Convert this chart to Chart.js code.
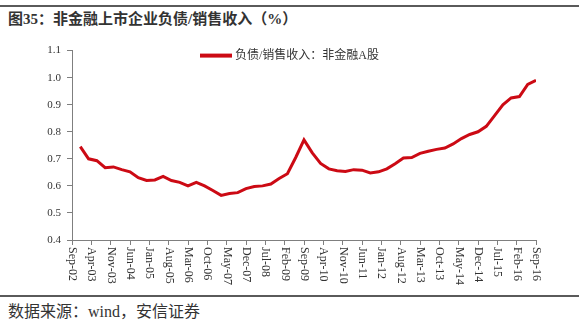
<!DOCTYPE html>
<html>
<head>
<meta charset="utf-8">
<script src="https://cdn.jsdelivr.net/npm/chart.js@4.4.0/dist/chart.umd.min.js"></script>
<style>
    body { margin: 0; width: 579px; height: 321px; background: #fff; position: relative; overflow: hidden; }
    .rule { position: absolute; left: 0; width: 579px; height: 2px; background: #5a5a5a; }
    .caption { position: absolute; left: 8px; color: #333; font-family: "Liberation Serif", "Noto Sans CJK SC", serif; white-space: nowrap; }
    #title { top: 7px; font-size: 15px; font-weight: bold; }
    #source { top: 298px; font-size: 16px; }
    #wrap { position: absolute; left: 0; top: 38px; width: 579px; height: 252px; }
</style>
</head>
<body>
<div class="rule" style="top:5px"></div>
<div class="caption" id="title">图35：非金融上市企业负债/销售收入（%）</div>
<div id="wrap"><canvas id="debtChart"></canvas></div>
<div class="rule" style="top:295px"></div>
<div class="caption" id="source">数据来源：wind，安信证券</div>

<script>
// x axis tick labels, one every 7 months starting Sep-02
const tickLabels = ['Sep-02', 'Apr-03', 'Nov-03', 'Jun-04', 'Jan-05', 'Aug-05', 'Mar-06', 'Oct-06',
    'May-07', 'Dec-07', 'Jul-08', 'Feb-09', 'Sep-09', 'Apr-10', 'Nov-10', 'Jun-11', 'Jan-12',
    'Aug-12', 'Mar-13', 'Oct-13', 'May-14', 'Dec-14', 'Jul-15', 'Feb-16', 'Sep-16'];
const tickStep = 7;

// quarterly ratio, Dec-02 .. Sep-16
const seriesName = '负债/销售收入：非金融A股';
const firstQuarterOffset = 3; // Dec-02 is 3 months after Sep-02
const ratio = [
    0.745, 0.700, 0.693, 0.667, 0.670, 0.660, 0.652, 0.630,   // Dec-02 .. Sep-04
    0.620, 0.622, 0.635, 0.620, 0.613, 0.600, 0.613, 0.600,   // Dec-04 .. Sep-06
    0.583, 0.565, 0.572, 0.575, 0.590, 0.598, 0.600, 0.607,   // Dec-06 .. Sep-08
    0.627, 0.645, 0.705, 0.770, 0.722, 0.683, 0.663, 0.656,   // Dec-08 .. Sep-10
    0.653, 0.660, 0.658, 0.648, 0.652, 0.663, 0.682, 0.703,   // Dec-10 .. Sep-12
    0.705, 0.720, 0.728, 0.735, 0.740, 0.755, 0.775, 0.790,   // Dec-12 .. Sep-14
    0.800, 0.820, 0.860, 0.900, 0.925, 0.930, 0.975, 0.990    // Dec-14 .. Sep-16
];

const points = ratio.map((v, i) => ({ x: firstQuarterOffset + 3 * i, y: v }));

const labelFont = '12px "Liberation Serif", serif';
const legendFont = '12px "Liberation Serif", "Noto Sans CJK SC", serif';
const textColor = '#333';
const axisColor = '#7f7f7f';
const lineColor = '#cc0a14';

// draw x labels rotated clockwise (top-to-bottom), as in the source
const verticalLabels = {
    id: 'verticalLabels',
    afterDraw(chart) {
        const x = chart.scales.x;
        const ctx = chart.ctx;
        ctx.save();
        ctx.font = labelFont;
        ctx.fillStyle = textColor;
        ctx.textAlign = 'left';
        ctx.textBaseline = 'middle';
        tickLabels.forEach((lab, i) => {
            const px = x.getPixelForValue(i * tickStep);
            ctx.save();
            ctx.translate(px, chart.chartArea.bottom + 7);
            ctx.rotate(Math.PI / 2);
            ctx.fillText(lab, 0, 0);
            ctx.restore();
        });
        ctx.restore();
    }
};

// legend sits inside the plot, near the top
const topLegend = {
    id: 'topLegend',
    afterDraw(chart) {
        const ctx = chart.ctx;
        const area = chart.chartArea;
        const ds = chart.data.datasets[0];
        const left = area.left + 128;
        const y = area.top + 5;
        ctx.save();
        ctx.strokeStyle = ds.borderColor;
        ctx.lineWidth = 4;
        ctx.beginPath();
        ctx.moveTo(left, y);
        ctx.lineTo(left + 32, y);
        ctx.stroke();
        ctx.font = legendFont;
        ctx.fillStyle = textColor;
        ctx.textAlign = 'left';
        ctx.textBaseline = 'middle';
        ctx.fillText(ds.label, left + 35, y);
        ctx.restore();
    }
};

new Chart(document.getElementById('debtChart'), {
    type: 'line',
    data: {
        datasets: [{
            label: seriesName,
            data: points,
            borderColor: lineColor,
            backgroundColor: lineColor,
            borderWidth: 3,
            pointRadius: 0,
            tension: 0
        }]
    },
    options: {
        responsive: true,
        maintainAspectRatio: false,
        animation: false,
        layout: { padding: { top: 11, right: 43, left: 0, bottom: 0 } },
        plugins: {
            legend: { display: false },
            tooltip: { enabled: false }
        },
        scales: {
            x: {
                type: 'linear',
                min: 0,
                max: (tickLabels.length - 1) * tickStep,
                afterFit: scale => { scale.height = 50; },
                grid: { display: true, drawOnChartArea: false, tickLength: 5, color: axisColor },
                border: { display: true, color: axisColor },
                ticks: {
                    stepSize: tickStep,
                    autoSkip: false,
                    minRotation: 90,
                    maxRotation: 90,
                    color: 'rgba(0,0,0,0)',
                    font: { family: '"Liberation Serif", serif', size: 11 },
                    callback: v => tickLabels[v / tickStep] || ''
                }
            },
            y: {
                min: 0.4,
                max: 1.1,
                afterFit: scale => { scale.width = 72; },
                grid: { display: true, drawOnChartArea: false, tickLength: 5, color: axisColor },
                border: { display: true, color: axisColor },
                ticks: {
                    count: 8,
                    padding: 6,
                    color: textColor,
                    font: { family: '"Liberation Serif", serif', size: 11 },
                    callback: v => v.toFixed(1)
                }
            }
        }
    },
    plugins: [verticalLabels, topLegend]
});
</script>
</body>
</html>
